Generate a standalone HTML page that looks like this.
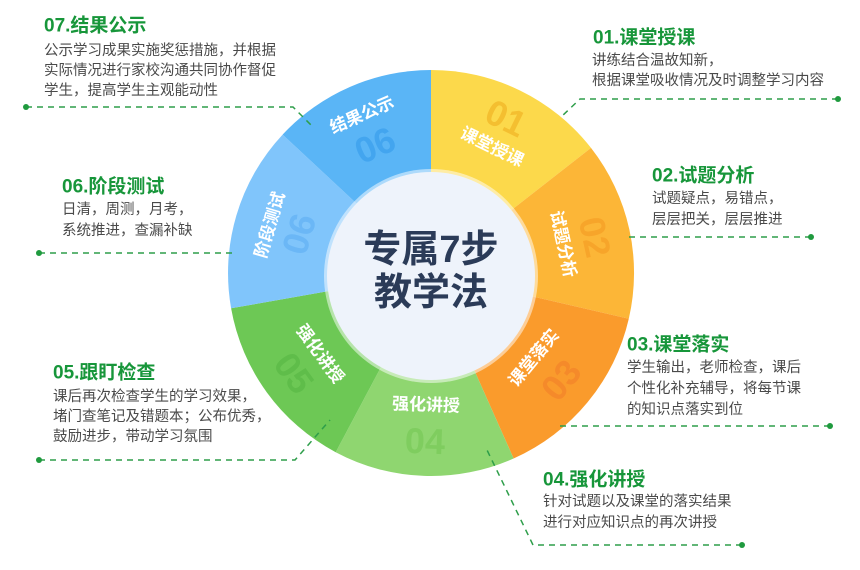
<!DOCTYPE html>
<html><head><meta charset="utf-8"><style>
body{margin:0;background:#fff;}
svg{display:block;font-family:"Liberation Sans","Noto Sans CJK SC",sans-serif;}
.t{font-size:19px;font-weight:bold;fill:#17963a;}
.b{font-size:14.5px;fill:#4a4a4a;}
.sl{font-size:17px;font-weight:bold;fill:#fff;}
.n{font-size:36px;font-weight:bold;}
</style></head><body>
<svg width="860" height="570" viewBox="0 0 860 570">
<rect width="860" height="570" fill="#fff"/>
<path d="M431,273 L431,70 A203,203 0 0 1 591,147.9 Z" fill="#fcd94b"/>
<path d="M431,273 L591,147.9 A203,203 0 0 1 628.8,318.7 Z" fill="#fcb637"/>
<path d="M431,273 L628.8,318.7 A203,203 0 0 1 513.6,458.5 Z" fill="#fa9b2c"/>
<path d="M431,273 L513.6,458.5 A203,203 0 0 1 335.7,452.2 Z" fill="#8fd670"/>
<path d="M431,273 L335.7,452.2 A203,203 0 0 1 231.1,308.3 Z" fill="#6dc855"/>
<path d="M431,273 L231.1,308.3 A203,203 0 0 1 282.6,134.6 Z" fill="#80c5fb"/>
<path d="M431,273 L282.6,134.6 A203,203 0 0 1 431,70 Z" fill="#5ab5f6"/>
<circle cx="431" cy="276" r="107" fill="#fff" opacity="0.5"/>
<circle cx="431" cy="276" r="104" fill="#eef3fb"/>
<text x="431" y="250" text-anchor="middle" dominant-baseline="central" font-size="38" font-weight="bold" fill="#2b3b58">专属7步</text>
<text x="431" y="293" text-anchor="middle" dominant-baseline="central" font-size="38" font-weight="bold" fill="#2b3b58">教学法</text>
<g class="n" text-anchor="middle" dominant-baseline="central">
<text transform="translate(506,118) rotate(26)" fill="#f3b92a" opacity="0.8">01</text>
<text transform="translate(595,237) rotate(77.5)" fill="#f7a128" opacity="0.8">02</text>
<text transform="translate(561,380) rotate(-50.5)" fill="#f5862a" opacity="0.8">03</text>
<text transform="translate(425,441) rotate(2)" fill="#7ccb5c" opacity="0.8">04</text>
<text transform="translate(294,373) rotate(54)" fill="#5cbb48" opacity="0.8">05</text>
<text transform="translate(299,234) rotate(-73.5)" fill="#66b4f5" opacity="0.8">06</text>
<text transform="translate(375,145) rotate(-23.5)" fill="#3ea2ee" opacity="0.8">06</text>
</g>
<g class="sl" text-anchor="middle" dominant-baseline="central">
<text transform="translate(492,147) rotate(26)">课堂授课</text>
<text transform="translate(563,244) rotate(77.5)">试题分析</text>
<text transform="translate(534,358) rotate(-50.5)">课堂落实</text>
<text transform="translate(426,405) rotate(2)">强化讲授</text>
<text transform="translate(320,354) rotate(54)">强化讲授</text>
<text transform="translate(270,225) rotate(-73.5)">阶段测试</text>
<text transform="translate(362,115) rotate(-23.5)">结果公示</text>
</g>
<g stroke="#2e9e4a" stroke-width="1.5" stroke-dasharray="6,5" fill="none">
<path d="M26,107 L293,107 L313,127"/>
<path d="M39,253 L233,253"/>
<path d="M39,460 L295,460 L330,420"/>
<path d="M838,99 L580,99 L560,118"/>
<path d="M811,237 L627,237"/>
<path d="M830,426 L557,426"/>
<path d="M742,545 L533,545 L487,450"/>
</g>
<g fill="#1f9a3e">
<circle cx="26" cy="107" r="3"/><circle cx="39" cy="253" r="3"/><circle cx="39" cy="460" r="3"/>
<circle cx="838" cy="99" r="3"/><circle cx="811" cy="237" r="3"/><circle cx="830" cy="426" r="3"/><circle cx="742" cy="545" r="3"/>
</g>
<g dominant-baseline="central">
<text class="t" x="44" y="26">07.结果公示</text>
<text class="b" x="44" y="51">公示学习成果实施奖惩措施，并根据</text>
<text class="b" x="44" y="71">实际情况进行家校沟通共同协作督促</text>
<text class="b" x="44" y="91">学生，提高学生主观能动性</text>

<text class="t" x="62" y="187">06.阶段测试</text>
<text class="b" x="62" y="210">日清，周测，月考，</text>
<text class="b" x="62" y="231">系统推进，查漏补缺</text>

<text class="t" x="53" y="373">05.跟盯检查</text>
<text class="b" x="53" y="397">课后再次检查学生的学习效果，</text>
<text class="b" x="53" y="417">堵门查笔记及错题本；公布优秀，</text>
<text class="b" x="53" y="437">鼓励进步，带动学习氛围</text>

<text class="t" x="593" y="38">01.课堂授课</text>
<text class="b" x="592" y="61">讲练结合温故知新，</text>
<text class="b" x="592" y="81">根据课堂吸收情况及时调整学习内容</text>

<text class="t" x="652" y="176">02.试题分析</text>
<text class="b" x="652" y="199">试题疑点，易错点，</text>
<text class="b" x="652" y="220">层层把关，层层推进</text>

<text class="t" x="627" y="345">03.课堂落实</text>
<text class="b" x="627" y="368">学生输出，老师检查，课后</text>
<text class="b" x="627" y="389">个性化补充辅导，将每节课</text>
<text class="b" x="627" y="410">的知识点落实到位</text>

<text class="t" x="543" y="480">04.强化讲授</text>
<text class="b" x="543" y="502">针对试题以及课堂的落实结果</text>
<text class="b" x="543" y="523">进行对应知识点的再次讲授</text>
</g>
</svg>
</body></html>
